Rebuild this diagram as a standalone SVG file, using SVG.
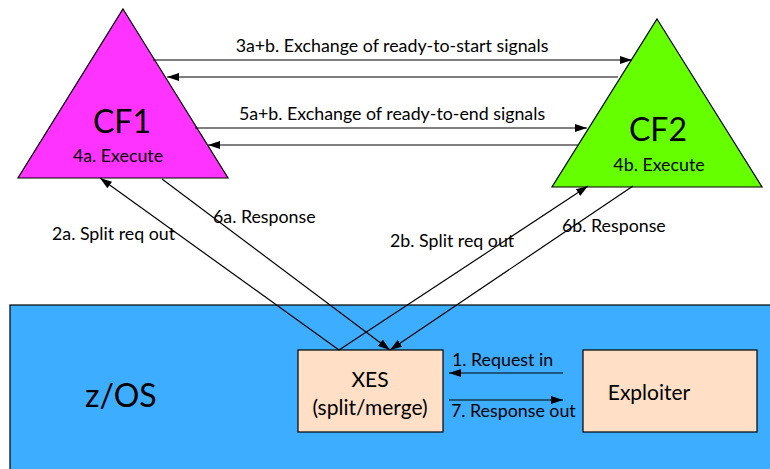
<svg xmlns="http://www.w3.org/2000/svg" width="770" height="469" viewBox="0 0 770 469">
<style>
text{font-family:Lato,"Open Sans","DejaVu Sans",sans-serif;fill:#000}
.lbl{font-size:17.8px}
.box{font-size:21px}
.big{font-size:32px}
.ln{stroke:#000;stroke-width:1.2;fill:none}
.sh{stroke:#000;stroke-width:1.2}
</style>
<defs>
<marker id="ah" viewBox="0 0 12 8" refX="12" refY="4" markerWidth="12" markerHeight="8" markerUnits="userSpaceOnUse" orient="auto">
<path d="M0,0 L12,4 L0,8 z" fill="#000"/>
</marker>
</defs>
<rect width="770" height="469" fill="#fff"/>
<g id="zos">
<rect x="10" y="305" width="770" height="180" fill="#3DAEFF" class="sh"/>
<text x="85" y="407" class="big">z/OS</text>
</g>
<g id="cf1">
<polygon points="123,9 228,178 18,178" fill="#FF33FF" class="sh"/>
<text x="122" y="133" class="big" text-anchor="middle">CF1</text>
<text x="118" y="162" class="lbl" text-anchor="middle">4a. Execute</text>
</g>
<g id="cf2">
<polygon points="657,19 762,187 552,187" fill="#66FF00" class="sh"/>
<text x="658" y="141" class="big" text-anchor="middle">CF2</text>
<text x="659" y="171" class="lbl" text-anchor="middle">4b. Execute</text>
</g>
<g id="xes">
<rect x="298" y="350" width="145" height="82" fill="#FFDFC6" class="sh"/>
<text x="370" y="387" class="box" text-anchor="middle">XES</text>
<text x="370" y="415" class="box" text-anchor="middle">(split/merge)</text>
</g>
<g id="exploiter">
<rect x="583" y="350" width="174" height="82" fill="#FFDFC6" class="sh"/>
<text x="649" y="400" class="box" text-anchor="middle">Exploiter</text>
</g>
<g id="connectors">
<line x1="153" y1="60" x2="632" y2="60" class="ln" marker-end="url(#ah)"/>
<line x1="618" y1="77" x2="167" y2="77" class="ln" marker-end="url(#ah)"/>
<line x1="195" y1="128" x2="587" y2="128" class="ln" marker-end="url(#ah)"/>
<line x1="578" y1="145" x2="208" y2="145" class="ln" marker-end="url(#ah)"/>
<line x1="339" y1="350" x2="100" y2="178" class="ln" marker-end="url(#ah)"/>
<line x1="162" y1="179" x2="390" y2="350" class="ln" marker-end="url(#ah)"/>
<line x1="339" y1="350" x2="588" y2="186" class="ln" marker-end="url(#ah)"/>
<line x1="633" y1="186" x2="390" y2="350" class="ln" marker-end="url(#ah)"/>
<line x1="563" y1="373" x2="449" y2="373" class="ln" marker-end="url(#ah)"/>
<line x1="449" y1="400" x2="563" y2="400" class="ln" marker-end="url(#ah)"/>
</g>
<g id="labels">
<text x="392" y="52" class="lbl" text-anchor="middle">3a+b. Exchange of ready-to-start signals</text>
<text x="392" y="120" class="lbl" text-anchor="middle">5a+b. Exchange of ready-to-end signals</text>
<text x="52" y="240" class="lbl">2a. Split req out</text>
<text x="213" y="223" class="lbl">6a. Response</text>
<text x="390" y="247" class="lbl">2b. Split req out</text>
<text x="562" y="232" class="lbl">6b. Response</text>
<text x="452" y="366" class="lbl">1. Request in</text>
<text x="451" y="417" class="lbl">7. Response out</text>
</g>
</svg>
